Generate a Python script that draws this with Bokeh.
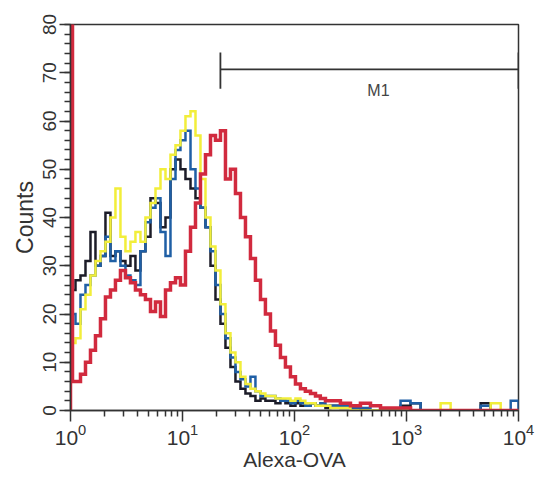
import numpy as np
from bokeh.plotting import figure
from bokeh.models import FixedTicker, SingleIntervalTicker
from bokeh.core.properties import value
from bokeh.embed import file_html
from bokeh.resources import INLINE

# Histogram channel edges (Alexa-OVA fluorescence, log scale)
bin_edges = [1.0, 1.042, 1.108, 1.228, 1.361, 1.508, 1.671, 1.852, 2.052, 2.274, 2.52,
             2.793, 3.095, 3.43, 3.801, 4.212, 4.668, 5.179, 5.74, 6.36, 7.05,
             7.81, 8.66, 9.59, 10.63, 11.79, 13.06, 14.47, 16.04, 17.78, 19.7,
             21.83, 24.19, 26.81, 29.71, 32.93, 36.49, 40.44, 44.8, 49.7, 55.0,
             61.0, 67.6, 74.9, 83.0, 92.0, 102, 113, 125, 139, 154,
             170, 189, 209, 257, 316, 388, 477, 586, 720, 885,
             1087, 1336, 1641, 2016, 2477, 3043, 3738, 4593, 5642, 6932,
             8517, 10000]

counts_black = [30, 25,
                27, 28, 31, 37, 30, 32, 41, 32, 33, 31,
                30, 32, 29, 33, 36, 44, 43, 38, 40, 50,
                52, 50, 48, 46, 44, 42, 38, 30, 23, 18,
                13, 9, 6, 4.5, 3.5, 3, 2, 2.5, 2, 2,
                1.5, 2, 1.5, 1, 1.5, 1, 1, 1.5, 1, 1,
                0.5,
                1, 0.5, 0.5, 0, 0, 0, 0, 1, 1.5, 0, 0, 0, 0, 0, 0, 1.5, 0, 0,
                0]

counts_blue = [25, 20,
               18, 24, 26, 28, 30, 32, 36, 31, 33, 30,
               28, 27, 26, 33, 39, 42, 44, 37, 32, 48,
               54, 56, 58, 50, 46, 42, 38, 33, 26, 20,
               15, 11, 8, 6.5, 5, 7, 4, 3, 3, 3,
               2.5, 2, 2, 1.5, 2, 1.5, 1, 1.5, 1, 1.5,
               1,
               1, 1, 0.5, 0.5, 0, 0, 0, 2, 1.5, 0, 0, 0, 0, 0, 0, 1, 0, 0,
               2]

counts_yellow = [47, 14,
                 15, 21, 24, 28, 31, 33, 35, 40, 46, 36,
                 33, 35, 37, 35, 40, 43, 46, 50, 48, 53,
                 55, 58, 61, 62, 57, 48, 40, 34, 29, 22,
                 16, 12, 10, 7, 5.5, 4.5, 4, 3.5, 3, 3,
                 2.5, 2.5, 2.5, 2, 2.5, 2, 1.5, 1.5, 1, 1,
                 1,
                 0.5, 0.5, 0, 0, 0, 0, 0, 0, 0, 0, 0, 1.5, 0, 0, 0, 0, 1.5, 0,
                 0]

counts_red = [100, 6,
              6, 7.5, 10, 12.5, 15.5, 19, 23.5, 25, 27, 29,
              27.5, 26.5, 25, 24, 23, 20.5, 22.5, 19.5, 25, 26.5,
              27.5, 26, 33, 38, 43, 49, 53, 57, 56, 58,
              48, 50, 45, 40, 36, 31.5, 27, 23, 20, 16.5,
              13.5, 11, 9, 7, 5.5, 4.5, 4, 3.5, 3, 2.5,
              2,
              2, 1.5, 1, 1.5, 1, 0.5, 0.5, 0.5, 0, 0, 0, 0, 0, 0, 0, 0, 0, 0,
              0]

x_ticks = [1, 10, 100, 1000, 10000]
y_range_max = 80

# Marker M1
m1_start, m1_end, m1_level = 21.8, 10000, 70.7
m1_tick_lo, m1_tick_hi = 66.7, 74.2
m1_label_x, m1_label_y = 562, 66.3


def step_path(edges, counts):
    xs = [edges[0]]
    ys = [0]
    for i, c in enumerate(counts):
        xs += [edges[i], edges[i + 1]]
        ys += [c, c]
    xs.append(edges[-1])
    ys.append(0)
    return xs, ys


p = figure(width=535, height=478, x_axis_type="log", x_range=(1, 10000),
           y_range=(0, y_range_max), output_backend="svg", toolbar_location=None,
           min_border_left=70, min_border_right=17, min_border_top=24,
           min_border_bottom=68)
p.background_fill_color = "white"
p.border_fill_color = "white"
p.xgrid.visible = False
p.ygrid.visible = False
p.outline_line_color = "#333333"
p.outline_line_width = 1.5

series = [
    (counts_black, "#1c1c28", 2.5),
    (counts_blue, "#1f5fa5", 2.5),
    (counts_yellow, "#f2ee3a", 2.5),
    (counts_red, "#d12a3e", 3.5),
]
for counts, color, lw in series:
    xs, ys = step_path(bin_edges, counts)
    p.line(xs, ys, line_color=color, line_width=lw, line_join="miter")

# M1 marker
p.segment(x0=[m1_start, m1_start, m1_end], y0=[m1_level, m1_tick_lo, m1_tick_lo],
          x1=[m1_end, m1_start, m1_end], y1=[m1_level, m1_tick_hi, m1_tick_hi],
          line_color="#333333", line_width=1.8)
p.text(x=[m1_label_x], y=[m1_label_y], text=["M1"], text_align="center",
       text_baseline="middle", text_font=value("Liberation Sans"),
       text_font_size="16px", text_color="#444444")

minor = [m * d for d in [1, 10, 100, 1000] for m in range(2, 10)]
p.xaxis.ticker = FixedTicker(ticks=x_ticks, minor_ticks=minor)
p.yaxis.ticker = SingleIntervalTicker(interval=10, num_minor_ticks=5)

for ax in (p.xaxis[0], p.yaxis[0]):
    ax.axis_line_color = "#333333"
    ax.axis_line_width = 1.5
    ax.major_tick_line_color = "#333333"
    ax.minor_tick_line_color = "#333333"
    ax.major_tick_line_width = 1.5
    ax.minor_tick_line_width = 1.5
    ax.major_tick_in = 0
    ax.minor_tick_in = 0
    ax.major_tick_out = 11
    ax.minor_tick_out = 6
    ax.major_label_text_font = "Liberation Sans"
    ax.major_label_text_color = "#333333"
    ax.axis_label_text_font = "Liberation Sans"
    ax.axis_label_text_font_style = "normal"
    ax.axis_label_text_color = "#333333"

p.xaxis.axis_label = "Alexa-OVA"
p.yaxis.axis_label = "Counts"
p.yaxis.axis_label_text_font_size = "23px"
p.xaxis.axis_label_text_font_size = "21px"
p.yaxis.major_label_orientation = "vertical"
p.yaxis.major_label_text_font_size = "19px"
p.xaxis.major_label_text_font_size = "21px"
p.yaxis.major_label_standoff = 4
p.xaxis.major_label_standoff = 2
p.yaxis.axis_label_standoff = 2
p.xaxis.axis_label_standoff = 0

open("out.html", "w").write(file_html(p, INLINE))
